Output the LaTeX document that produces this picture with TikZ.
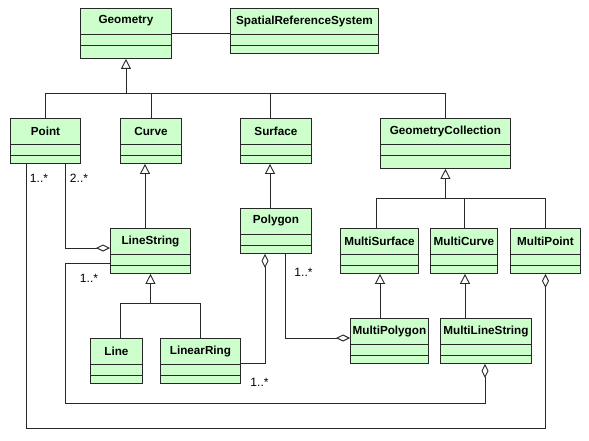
\documentclass[tikz,border=0pt]{standalone}
\usepackage{fontspec}
\setmainfont{Liberation Sans}
\usetikzlibrary{arrows.meta,calc}
\definecolor{umlgreen}{RGB}{204,255,204}
\definecolor{umlline}{RGB}{40,40,40}
\tikzset{
  cls/.style={draw=umlline, fill=umlgreen, line width=0.9pt, inner sep=0pt, rectangle},
  hdr/.style={font=\bfseries\fontsize{11.7}{13}\selectfont, inner sep=0pt},
  cline/.style={draw=umlline, line width=0.9pt},
  conn/.style={draw=umlline, line width=0.9pt},
  inh/.style={conn, -{Triangle[open, length=10pt, width=10pt, fill=white]}},
  agg/.style={conn, -{Diamond[open, length=14pt, width=7pt, fill=white]}},
  mult/.style={font=\fontsize{12}{14}\selectfont, inner sep=0pt},
}
\newcommand\umlbox[6]{%
  \node[cls, minimum width=#4pt, minimum height=#5pt, anchor=north west] (#1) at (#2,#3) {};
  \node[hdr] (#1-t) at ($(#1.north)+(0,13)$) {#6};
  \draw[cline] ($(#1.north west)+(0,26)$) -- ($(#1.north east)+(0,26)$);
  \draw[cline] ($(#1.north west)+(0,37)$) -- ($(#1.north east)+(0,37)$);
}
\begin{document}
\begin{tikzpicture}[x=1pt, y=-1pt]
\useasboundingbox[fill=white] (0,0) rectangle (589,441);

\umlbox{Geometry}{80}{8}{91}{50}{Geometry}
\umlbox{SRS}{230}{8}{148}{45}{SpatialReferenceSystem}
\umlbox{Point}{10}{118}{70}{45}{Point}
\umlbox{Curve}{120}{118}{61}{45}{Curve}
\umlbox{Surface}{240}{118}{71}{45}{Surface}
\umlbox{GC}{380}{118}{130}{50}{GeometryCollection}
\umlbox{Polygon}{240}{208}{71}{45}{Polygon}
\umlbox{LineString}{110}{228}{80}{45}{LineString}
\umlbox{MultiSurface}{340}{228}{78}{45}{MultiSurface}
\umlbox{MultiCurve}{430}{228}{67}{45}{MultiCurve}
\umlbox{MultiPoint}{510}{228}{70}{45}{MultiPoint}
\umlbox{Line}{90}{338}{52}{45}{Line}
\umlbox{LinearRing}{160}{338}{80}{45}{LinearRing}
\umlbox{MultiPolygon}{350}{318}{78}{45}{MultiPolygon}
\umlbox{MultiLineString}{440}{318}{91}{45}{MultiLineString}

% association Geometry - SRS
\draw[conn] (Geometry.east) -- (Geometry.east -| SRS.west);

% generalization from Geometry
\coordinate (g1) at ($(Geometry.south)+(0,35)$);
\draw[inh] (g1) -- (Geometry.south);
\draw[conn] (Point.north) |- (g1) -| (GC.north);
\draw[conn] (Curve.north) -- (Curve.north |- g1);
\coordinate (sf) at ($(Surface.north west)+(30,0)$);
\draw[conn] (sf) -- (sf |- g1);

% Surface -> Polygon, Curve -> LineString
\draw[inh] ($(Polygon.north west)+(30,0)$) -- ($(Surface.south west)+(30,0)$);
\draw[inh] ($(LineString.north west)+(35,0)$) -- ($(Curve.south west)+(25,0)$);

% GeometryCollection subclasses
\coordinate (g2) at ($(GC.south)+(0,30)$);
\draw[inh] (g2) -- (GC.south);
\draw[conn] ($(MultiSurface.north west)+(36,0)$) |- (g2) -| (MultiPoint.north);
\draw[conn] (MultiCurve.north) -- (MultiCurve.north |- g2);
\draw[inh] ($(MultiPolygon.north west)+(30,0)$) -- ($(MultiSurface.south west)+(40,0)$);
\draw[inh] ($(MultiLineString.north west)+(25,0)$) -- ($(MultiCurve.south west)+(35,0)$);

% LineString subclasses
\coordinate (g3) at ($(LineString.south)+(0,30)$);
\draw[inh] (g3) -- (LineString.south);
\draw[conn] ($(Line.north west)+(30,0)$) |- (g3) -| (LinearRing.north);

% aggregations
\draw[agg] ($(Point.south west)+(55,0)$) |- ($(LineString.north west)+(0,20)$);
\coordinate (bot1) at ($(Point.south west)+(16,265)$);
\draw[agg] ($(Point.south west)+(16,0)$) -- (bot1) -| (MultiPoint.south);
\coordinate (bot2) at ($(Point.south west)+(55,240)$);
\draw[agg] ($(LineString.north west)+(0,35)$) -| (bot2) -| ($(MultiLineString.south west)+(45,0)$);
\draw[agg] ($(LinearRing.north east)+(0,25)$) -| ($(Polygon.south west)+(25,0)$);
\draw[agg] ($(Polygon.south west)+(45,0)$) |- ($(MultiPolygon.north west)+(0,20)$);

% multiplicities
\node[mult] (m1) at (39,178) {1..*};
\node[mult] (m2) at (79,178) {2..*};
\node[mult] (m3) at (89,278) {1..*};
\node[mult] (m4) at (259.5,382) {1..*};
\node[mult] (m5) at (303.5,272) {1..*};
\end{tikzpicture}
\end{document}
